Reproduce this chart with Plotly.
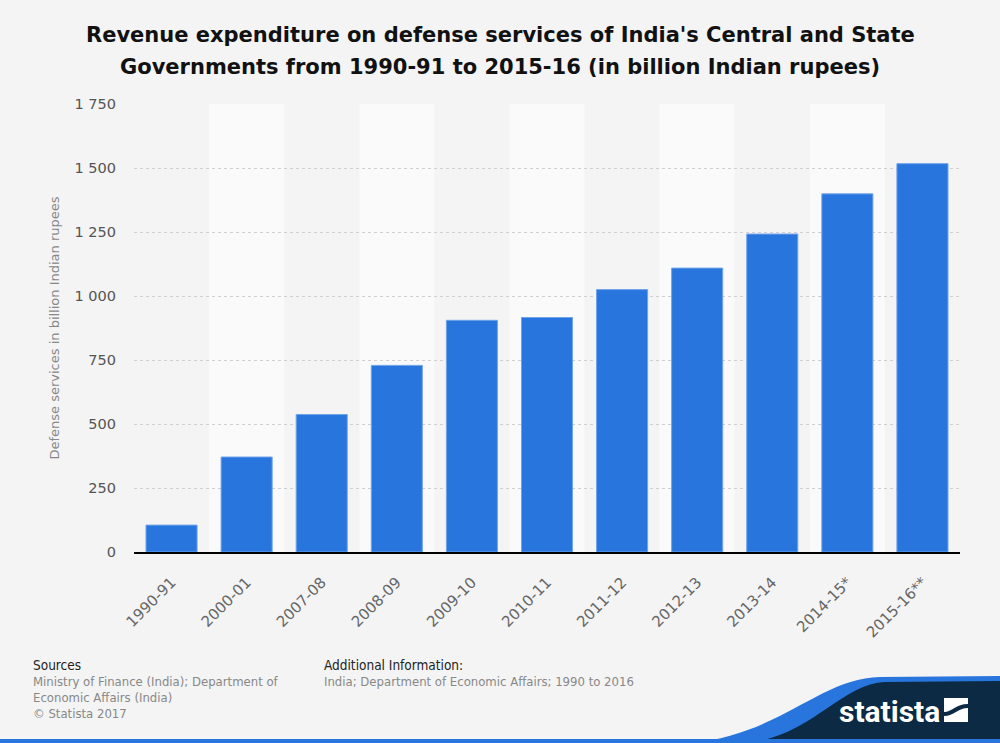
import plotly.graph_objects as go

categories = ["1990-91", "2000-01", "2007-08", "2008-09", "2009-10", "2010-11",
              "2011-12", "2012-13", "2013-14", "2014-15*", "2015-16**"]
values = [105, 371, 537, 729, 905, 916, 1025, 1109, 1242, 1399, 1517]
y_tickvals = [0, 250, 500, 750, 1000, 1250, 1500, 1750]
y_ticktext = ["0", "250", "500", "750", "1 000", "1 250", "1 500", "1 750"]

W, H = 1000, 743
L, R, T, B = 134, 40, 104, 191
PW, PH = W - L - R, H - T - B


def px(x):
    return (x - L) / PW


def py(y):
    return (H - B - y) / PH


fig = go.Figure()
fig.add_trace(go.Bar(
    x=categories, y=values,
    marker=dict(color="#2876dd", line=dict(color="#6fa3ea", width=1)),
    hoverinfo="x+y",
))

shapes = []
for i in range(len(categories)):
    if i % 2 == 1:
        shapes.append(dict(type="rect", xref="x", yref="paper", x0=i - 0.5, x1=i + 0.5,
                           y0=0, y1=1, fillcolor="#fafafa", line=dict(width=0), layer="below"))

blue_path = (f"M {px(690)},{py(743)} C {px(780)},{py(735)} {px(820)},{py(678)} {px(880)},{py(677)} "
             f"L {px(1000)},{py(676)} L {px(1000)},{py(743)} Z")
navy_path = (f"M {px(745)},{py(743)} C {px(810)},{py(738)} {px(840)},{py(684)} {px(885)},{py(682)} "
             f"L {px(1000)},{py(681)} L {px(1000)},{py(743)} Z")
shapes.append(dict(type="path", xref="paper", yref="paper", path=blue_path,
                   fillcolor="#2876dd", line=dict(width=0), layer="above"))
shapes.append(dict(type="path", xref="paper", yref="paper", path=navy_path,
                   fillcolor="#0c2a44", line=dict(width=0), layer="above"))
shapes.append(dict(type="rect", xref="paper", yref="paper", x0=px(0), x1=px(1000),
                   y0=py(743), y1=py(739), fillcolor="#2876dd", line=dict(width=0), layer="above"))
shapes.append(dict(type="rect", xref="paper", yref="paper", x0=px(944), x1=px(968),
                   y0=py(722), y1=py(698), fillcolor="#ffffff", line=dict(width=0), layer="above"))
icon_cut = (f"M {px(944)},{py(712)} C {px(952)},{py(712)} {px(956)},{py(704)} {px(968)},{py(704)} "
            f"L {px(968)},{py(708)} C {px(958)},{py(708)} {px(954)},{py(716)} {px(944)},{py(716)} Z")
shapes.append(dict(type="path", xref="paper", yref="paper", path=icon_cut,
                   fillcolor="#0c2a44", line=dict(width=0), layer="above"))

FOOT = "DejaVu Sans Condensed, DejaVu Sans"


def note(text, x, y, size, color, family=FOOT, anchor="left"):
    return dict(text=text, x=px(x), y=py(y), xref="paper", yref="paper", xanchor=anchor,
                yanchor="middle", showarrow=False, font=dict(family=family, size=size, color=color))


annotations = [
    note("<b>Revenue expenditure on defense services of India's Central and State</b>",
         500, 35, 21, "#111", "DejaVu Sans", "center"),
    note("<b>Governments from 1990-91 to 2015-16 (in billion Indian rupees)</b>",
         500, 67, 21, "#111", "DejaVu Sans", "center"),
    note("Sources", 31, 665, 13.5, "#222"),
    note("Ministry of Finance (India); Department of", 31, 681, 13, "#888"),
    note("Economic Affairs (India)", 31, 697, 13, "#888"),
    note("© Statista 2017", 31, 713, 13, "#888"),
    note("Additional Information:", 322, 665, 13.5, "#222"),
    note("India; Department of Economic Affairs; 1990 to 2016", 322, 681, 13, "#888"),
    note("<b>statista</b>", 942, 711, 30, "#ffffff", "Liberation Sans Narrow, Roboto, sans-serif", "right"),
]

fig.update_layout(
    width=W, height=H,
    margin=dict(l=L, r=R, t=T, b=B),
    paper_bgcolor="#f4f4f4", plot_bgcolor="#f4f4f4",
    bargap=0.32,
    showlegend=False,
    shapes=shapes,
    annotations=annotations,
    font=dict(family="DejaVu Sans"),
)
fig.update_xaxes(
    type="category", tickangle=-45, showgrid=False,
    showline=True, linecolor="#000", linewidth=1.5,
    tickfont=dict(family="DejaVu Sans", size=15, color="#666"),
    ticks="", ticklabelstandoff=14, range=[-0.5, len(categories) - 0.5],
)
fig.update_yaxes(
    range=[0, 1750], tickvals=y_tickvals, ticktext=y_ticktext,
    showgrid=True, gridcolor="#cfcfcf", griddash="dot", gridwidth=1,
    zeroline=False, showline=False, ticks="", ticklabelstandoff=17,
    tickfont=dict(family="DejaVu Sans", size=14.5, color="#555"),
    title=dict(text="Defense services in billion Indian rupees", standoff=11,
               font=dict(family="DejaVu Sans", size=13, color="#888")),
)

fig.write_html("out.html", post_script="document.body.style.margin='0';",
               config={"displayModeBar": False})
